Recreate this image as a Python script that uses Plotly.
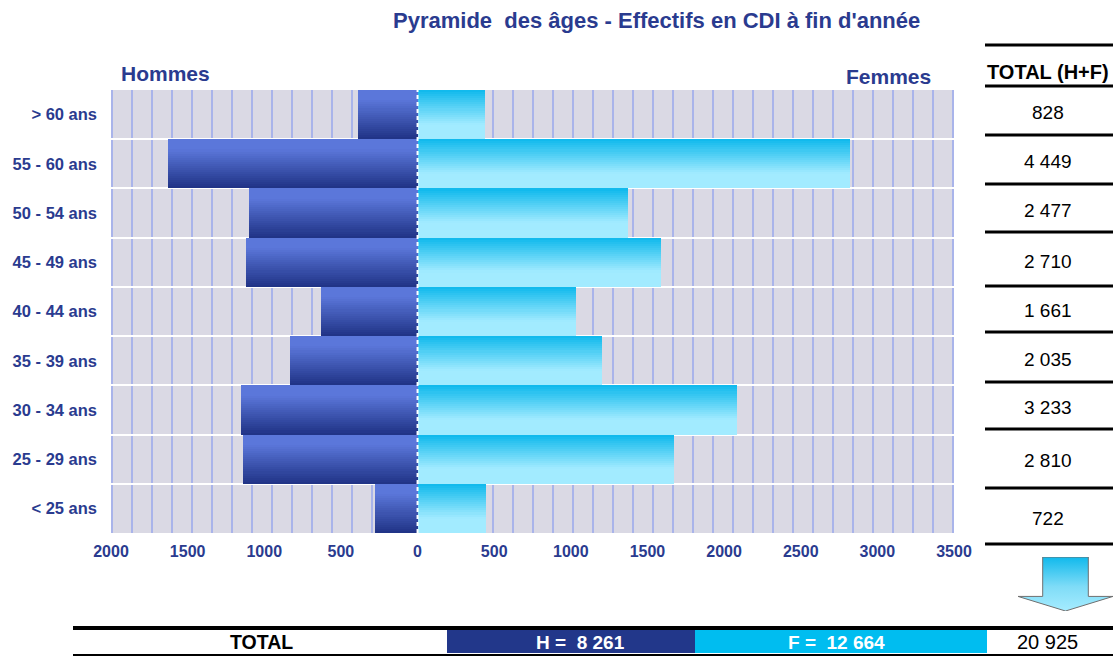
import plotly.graph_objects as go

# ---------------- data ----------------
categories = ["< 25 ans", "25 - 29 ans", "30 - 34 ans", "35 - 39 ans", "40 - 44 ans",
              "45 - 49 ans", "50 - 54 ans", "55 - 60 ans", "> 60 ans"]
hommes = [276, 1137, 1152, 830, 627, 1122, 1102, 1625, 390]
femmes = [446, 1673, 2081, 1205, 1034, 1588, 1375, 2824, 438]
x_tick_values = [-2000, -1500, -1000, -500, 0, 500, 1000, 1500, 2000, 2500, 3000, 3500]
x_tick_labels = ["2000", "1500", "1000", "500", "0", "500", "1000", "1500", "2000", "2500", "3000", "3500"]

totals = [h + f for h, f in zip(hommes, femmes)]
total_h = sum(hommes)
total_f = sum(femmes)
total_all = total_h + total_f


def fmt(n):
    return f"{n:,}".replace(",", "\u00a0")


# ---------------- helpers ----------------
W, H = 1116, 657
FONT = "Liberation Sans, Arial, sans-serif"
NAVY = "#2a3b8f"


def px(x):
    return x / W


def py(y):
    return 1 - y / H


def hex2rgb(h):
    h = h.lstrip("#")
    return tuple(int(h[i:i + 2], 16) for i in (0, 2, 4))


def mix(c1, c2, t):
    a, b = hex2rgb(c1), hex2rgb(c2)
    return "rgb(%d,%d,%d)" % tuple(round(a[i] + (b[i] - a[i]) * t) for i in range(3))


def men_color(t):  # t: 0 bottom -> 1 top
    tt = min(1.0, t / 0.8)
    return mix("#1f3285", "#5b77da", tt)


def women_color(t):
    tt = max(0.0, (t - 0.3) / 0.7)
    return mix("#a2ebff", "#0eb8ec", tt)


fig = go.Figure()

N = 24
for k in range(N):
    t = (k + 0.5) / N
    fig.add_trace(go.Bar(
        y=categories, x=[-v for v in hommes], orientation="h",
        width=1 / N, offset=-0.5 + k / N,
        marker=dict(color=men_color(t), line=dict(width=0)),
        showlegend=False, hoverinfo="skip"))
    fig.add_trace(go.Bar(
        y=categories, x=femmes, orientation="h",
        width=1 / N, offset=-0.5 + k / N,
        marker=dict(color=women_color(t), line=dict(width=0)),
        showlegend=False, hoverinfo="skip"))

# arrow (decorative) on its own small axes, with gradient fill
fig.add_trace(go.Scatter(
    x=[0.26, 0.74, 0.74, 1.0, 0.5, 0.0, 0.26, 0.26],
    y=[1.0, 1.0, 0.27, 0.27, 0.0, 0.27, 0.27, 1.0],
    xaxis="x2", yaxis="y2", mode="lines", fill="toself",
    fillgradient=dict(type="vertical",
                      colorscale=[[0, "#a6ecff"], [0.45, "#7fdcf7"], [1, "#10b9ec"]]),
    line=dict(color="#6f6f6f", width=1),
    showlegend=False, hoverinfo="skip"))

shapes = []
annotations = []

# main plot background
shapes.append(dict(type="rect", xref="x domain", yref="y domain", x0=0, x1=1, y0=0, y1=1,
                   fillcolor="#dad9e4", line=dict(width=0), layer="below"))

# center dashed line
shapes.append(dict(type="line", xref="x", yref="y domain", x0=0, x1=0, y0=0, y1=1,
                   line=dict(color="white", width=2, dash="4px,3px"), layer="above"))

# title & labels
annotations.append(dict(text="<b>Pyramide\u00a0 des âges - Effectifs en CDI à fin d'année</b>",
                        x=px(656), y=py(20), xref="paper", yref="paper",
                        xanchor="center", yanchor="middle", showarrow=False,
                        font=dict(family=FONT, size=22, color=NAVY)))
annotations.append(dict(text="<b>Hommes</b>", x=px(119), y=py(73), xref="paper", yref="paper",
                        xanchor="left", yanchor="middle", showarrow=False,
                        font=dict(family=FONT, size=21, color=NAVY)))
annotations.append(dict(text="<b>Femmes</b>", x=px(933), y=py(76), xref="paper", yref="paper",
                        xanchor="right", yanchor="middle", showarrow=False,
                        font=dict(family=FONT, size=21, color=NAVY)))

# right table
TX0, TX1 = 985, 1113
table_lines = [45, 86, 135, 184, 232, 286, 332, 382, 429, 488, 544]
for yl in table_lines:
    shapes.append(dict(type="line", xref="paper", yref="paper", x0=px(TX0), x1=px(TX1),
                       y0=py(yl), y1=py(yl), line=dict(color="black", width=3)))
annotations.append(dict(text="<b>TOTAL (H+F)</b>", x=px(1048), y=py(72), xref="paper", yref="paper",
                        xanchor="center", yanchor="middle", showarrow=False,
                        font=dict(family=FONT, size=20, color="black")))
row_lines = table_lines[1:]
for i, val in enumerate(totals[::-1]):
    yc = (row_lines[i] + row_lines[i + 1]) / 2 + 2
    annotations.append(dict(text=fmt(val), x=px(1048), y=py(yc), xref="paper", yref="paper",
                            xanchor="center", yanchor="middle", showarrow=False,
                            font=dict(family=FONT, size=19, color="black")))

# bottom total row
shapes.append(dict(type="rect", xref="paper", yref="paper", x0=px(447), x1=px(695),
                   y0=py(653), y1=py(629), fillcolor="#22378a", line=dict(width=0)))
shapes.append(dict(type="rect", xref="paper", yref="paper", x0=px(695), x1=px(987),
                   y0=py(653), y1=py(629), fillcolor="#00bdf0", line=dict(width=0)))
shapes.append(dict(type="line", xref="paper", yref="paper", x0=px(73), x1=px(TX1),
                   y0=py(628), y1=py(628), line=dict(color="black", width=4)))
shapes.append(dict(type="line", xref="paper", yref="paper", x0=px(73), x1=px(TX1),
                   y0=py(655), y1=py(655), line=dict(color="black", width=2)))
annotations.append(dict(text="<b>TOTAL</b>", x=px(261), y=py(642), xref="paper", yref="paper",
                        xanchor="center", yanchor="middle", showarrow=False,
                        font=dict(family=FONT, size=19.5, color="black")))
annotations.append(dict(text="<b>H = \u00a0" + fmt(total_h) + "</b>", x=px(581), y=py(642),
                        xref="paper", yref="paper", xanchor="center", yanchor="middle",
                        showarrow=False, font=dict(family=FONT, size=19, color="white")))
annotations.append(dict(text="<b>F = \u00a0" + fmt(total_f) + "</b>", x=px(836), y=py(642),
                        xref="paper", yref="paper", xanchor="center", yanchor="middle",
                        showarrow=False, font=dict(family=FONT, size=19, color="white")))
annotations.append(dict(text=fmt(total_all), x=px(1047), y=py(642), xref="paper", yref="paper",
                        xanchor="center", yanchor="middle", showarrow=False,
                        font=dict(family=FONT, size=20, color="black")))

fig.update_layout(
    width=W, height=H,
    margin=dict(l=0, r=0, t=0, b=0),
    paper_bgcolor="white",
    plot_bgcolor="rgba(0,0,0,0)",
    barmode="overlay",
    bargap=0,
    showlegend=False,
    font=dict(family=FONT),
    xaxis=dict(domain=[px(111), px(954)], range=[-2000, 3500],
               tickvals=x_tick_values, ticktext=x_tick_labels,
               tickfont=dict(family=FONT, size=16, color=NAVY, weight="bold"),
               showgrid=False, zeroline=False, showline=False,
               ticks="outside", ticklen=4, tickcolor="rgba(0,0,0,0)",
               minor=dict(tick0=-33, dtick=130.5, showgrid=True, gridcolor="#a9b4ea",
                          gridwidth=1.5, ticks=""),
               automargin=False, fixedrange=True, anchor="y"),
    yaxis=dict(domain=[py(533), py(90)], type="category", categoryorder="array",
               categoryarray=categories, range=[-0.5, 8.5],
               tickson="boundaries", showgrid=True, gridcolor="white", gridwidth=2,
               tickfont=dict(family=FONT, size=16.5, color=NAVY, weight="bold"),
               ticks="", ticklabelstandoff=13,
               zeroline=False, showline=False, automargin=False, fixedrange=True,
               anchor="x"),
    xaxis2=dict(domain=[px(1018), px(1113)], range=[0, 1], visible=False, fixedrange=True,
                anchor="y2"),
    yaxis2=dict(domain=[py(611), py(557)], range=[0, 1], visible=False, fixedrange=True,
                anchor="x2"),
    shapes=shapes,
    annotations=annotations,
)

fig.write_html("out.html", config={"displayModeBar": False},
               post_script="document.body.style.margin='0';document.body.style.padding='0';")
